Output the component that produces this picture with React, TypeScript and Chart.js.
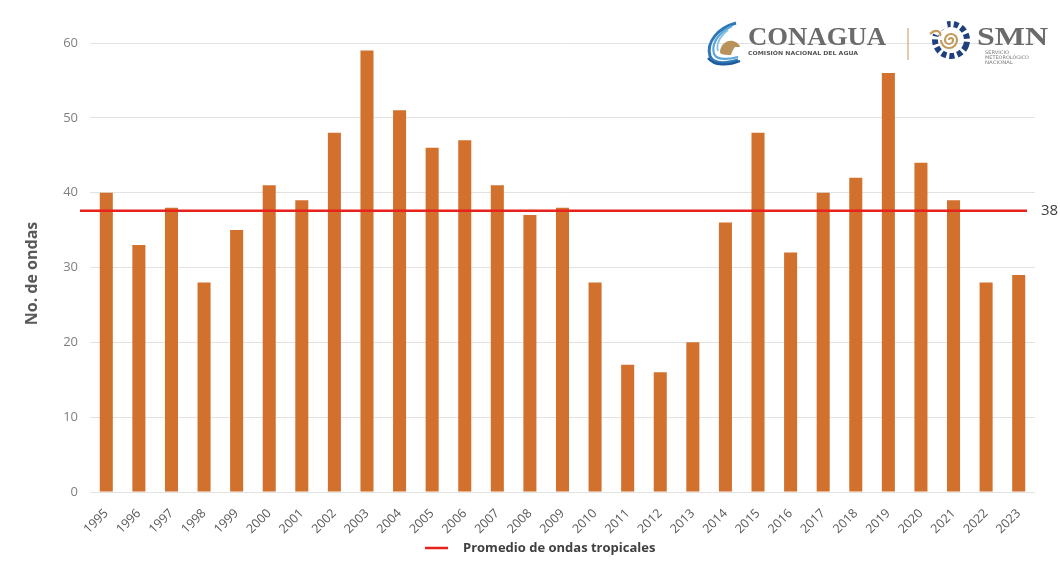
import React, { useEffect, useRef } from "react";
import { Chart, registerables } from "chart.js";
Chart.register(...registerables);

const years = ["1995","1996","1997","1998","1999","2000","2001","2002","2003","2004","2005","2006","2007","2008","2009","2010","2011","2012","2013","2014","2015","2016","2017","2018","2019","2020","2021","2022","2023"];
const waves = [40,33,38,28,35,41,39,48,59,51,46,47,41,37,38,28,17,16,20,36,48,32,40,42,56,44,39,28,29];
const averageValue = 37.6;
const averageLabel = "38";
const legendLabel = "Promedio de ondas tropicales";
const yTitle = "No. de ondas";
const yMin = 0;
const yMax = 60;
const yStep = 10;

const FONT = "'Open Sans', 'Noto Sans', sans-serif";

const overlayPlugin = {
  id: "overlay",
  afterDatasetsDraw(chart: any) {
    const { ctx, chartArea, scales } = chart;
    const y = scales.y.getPixelForValue(averageValue);
    ctx.save();
    ctx.strokeStyle = "#e8211c";
    ctx.lineWidth = 2.5;
    ctx.beginPath();
    ctx.moveTo(chartArea.left - 10, y);
    ctx.lineTo(chartArea.right - 8, y);
    ctx.stroke();
    ctx.fillStyle = "#404040";
    ctx.font = `15px ${FONT}`;
    ctx.textAlign = "left";
    ctx.textBaseline = "middle";
    ctx.fillText(averageLabel, chartArea.right + 6, y);
    ctx.restore();
  },
  afterDraw(chart: any) {
    const { ctx, chartArea } = chart;
    ctx.save();
    ctx.translate(32, (chartArea.top + chartArea.bottom) / 2 + 6);
    ctx.rotate(-Math.PI / 2);
    ctx.fillStyle = "#595959";
    ctx.font = `bold 16px ${FONT}`;
    ctx.textAlign = "center";
    ctx.textBaseline = "middle";
    ctx.fillText(yTitle, 0, 0);
    ctx.restore();
    ctx.save();
    ctx.strokeStyle = "#e8211c";
    ctx.lineWidth = 2.5;
    ctx.beginPath();
    ctx.moveTo(425, 548);
    ctx.lineTo(448, 548);
    ctx.stroke();
    ctx.fillStyle = "#404040";
    ctx.font = `bold 13px ${FONT}`;
    ctx.textAlign = "left";
    ctx.textBaseline = "middle";
    ctx.fillText(legendLabel, 463, 548);
    ctx.restore();
  },
};

function Logos() {
  return (
    <svg width={360} height={62} style={{ position: "absolute", left: 700, top: 14 }} viewBox="0 0 360 62">
      <path d="M36 9 C18 14 6 28 10 42 C13 50 24 50 38 46" fill="none" stroke="#2f78b8" strokeWidth={3} />
      <path d="M32 12 C18 19 11 30 14 40 C17 46 26 46 38 43" fill="none" stroke="#5aa6d8" strokeWidth={2.2} />
      <path d="M28 16 C19 23 16 31 18 37" fill="none" stroke="#86c3e6" strokeWidth={1.8} />
      <path d="M8 44 C14 52 28 52 40 47" fill="none" stroke="#1f5b9a" strokeWidth={2.2} />
      <path d="M20 39 C20 31 26 26 33 27 C37 28 40 31 40 33 L35 33 C33 35 32 38 31 41 C27 41 23 41 20 39 Z" fill="#b8925a" />
      <text x={48} y={31} fontFamily="'Liberation Serif', serif" fontWeight="bold" fontSize={26} fill="#6b6b6b" textLength={138} lengthAdjust="spacingAndGlyphs">CONAGUA</text>
      <text x={48} y={41} fontFamily="'DejaVu Sans', sans-serif" fontWeight="bold" fontSize={5.5} fill="#555" textLength={110} lengthAdjust="spacingAndGlyphs">COMISIÓN NACIONAL DEL AGUA</text>
      <line x1={208} y1={14} x2={208} y2={46} stroke="#d9b88f" strokeWidth={1.5} />
      <circle cx={251} cy={26} r={16} fill="none" stroke="#1f3f7e" strokeWidth={6} strokeDasharray="5 3" transform="rotate(20 251 26)" />
      <path d="M 247 9 A 18 18 0 0 0 234 20" fill="none" stroke="#ffffff" strokeWidth={9} />
      <path d="M251 26 m-2 0 a2 2 0 1 1 4 0 a4 4 0 1 1 -8 0 a6 6 0 1 1 12 0 a8 8 0 1 1 -16 0" fill="none" stroke="#c49a5e" strokeWidth={2.2} />
      <path d="M230 20 C236 14 242 18 240 22" fill="none" stroke="#c49a5e" strokeWidth={2.2} />
      <text x={277} y={31} fontFamily="'Liberation Serif', serif" fontWeight="bold" fontSize={26} fill="#6b6b6b" textLength={71} lengthAdjust="spacingAndGlyphs">SMN</text>
      <text x={285} y={40} fontFamily="'DejaVu Sans', sans-serif" fontSize={4.8} fill="#777" textLength={24} lengthAdjust="spacingAndGlyphs">SERVICIO</text>
      <text x={285} y={45} fontFamily="'DejaVu Sans', sans-serif" fontSize={4.8} fill="#777" textLength={44} lengthAdjust="spacingAndGlyphs">METEOROLÓGICO</text>
      <text x={285} y={50} fontFamily="'DejaVu Sans', sans-serif" fontSize={4.8} fill="#777" textLength={28} lengthAdjust="spacingAndGlyphs">NACIONAL</text>
    </svg>
  );
}

export default function App() {
  const canvasRef = useRef<HTMLCanvasElement>(null);

  useEffect(() => {
    if (!canvasRef.current) return;
    const chart = new Chart(canvasRef.current, {
      type: "bar",
      data: {
        labels: years,
        datasets: [
          {
            label: "Ondas tropicales",
            data: waves,
            backgroundColor: "#d2702d",
            barPercentage: 0.8,
            categoryPercentage: 0.5,
          },
        ],
      },
      options: {
        animation: false,
        responsive: false,
        layout: { padding: { top: 43, right: 25, bottom: 0, left: 0 } },
        plugins: { legend: { display: false }, tooltip: { enabled: false } },
        scales: {
          x: {
            grid: { display: false },
            border: { display: false },
            ticks: {
              color: "#595959",
              font: { family: FONT, size: 12.5 },
              minRotation: 45,
              maxRotation: 45,
              autoSkip: false,
              padding: 6,
            },
            afterFit: (s: any) => { s.height = 71; },
          },
          y: {
            min: yMin,
            max: yMax,
            ticks: {
              stepSize: yStep,
              color: "#7f7f7f",
              font: { family: FONT, size: 13 },
              padding: 12,
            },
            grid: { color: "#e2e2e2", drawTicks: false },
            border: { display: false },
            afterFit: (s: any) => { s.width = 90; },
          },
        },
      },
      plugins: [overlayPlugin],
    });
    return () => chart.destroy();
  }, []);

  return (
    <div style={{ position: "absolute", left: 0, top: 0, width: 1060, height: 563, background: "#fff", overflow: "hidden" }}>
      <canvas ref={canvasRef} width={1060} height={563} style={{ position: "absolute", left: 0, top: 0 }} />
      <Logos />
    </div>
  );
}
